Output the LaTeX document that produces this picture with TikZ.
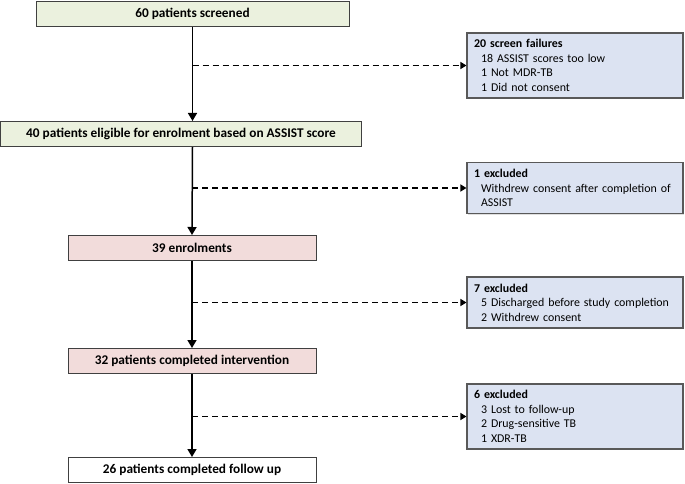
\documentclass[tikz,border=0pt]{standalone}
\usepackage{fontspec}
\setmainfont{Carlito}
\usetikzlibrary{arrows.meta,shadows}
\definecolor{boxgreen}{HTML}{EBF1DE}
\definecolor{boxpink}{HTML}{F2DCDB}
\definecolor{boxblue}{HTML}{DCE3F2}
\definecolor{edgegray}{HTML}{404040}
\definecolor{sidegray}{HTML}{595959}
\begin{document}
\begin{tikzpicture}[x=1pt,y=-1pt,
  mainbox/.style={draw=edgegray, line width=1pt, inner sep=0pt,
    minimum height=25pt, font=\fontsize{13.3}{15}\selectfont\bfseries},
  sidebox/.style={draw=sidegray, fill=boxblue, line width=1.1pt, inner sep=0pt,
    minimum width=216pt, text width=202pt, align=left,
    font=\fontsize{11.9}{14.5}\selectfont,
    drop shadow={shadow xshift=1.2pt, shadow yshift=-1.2pt, opacity=0.25}},
  flow/.style={line width=1.5pt, -{Triangle[length=8pt,width=9pt]}},
  side/.style={line width=1.4pt, dash pattern=on 6pt off 4pt, -{Triangle[length=6pt,width=7pt]}}
]
\useasboundingbox (0,0) rectangle (685,484);

\node[mainbox, fill=boxgreen, minimum width=313pt] (b1) at (192.5,14) {60 patients screened};
\node[mainbox, fill=boxgreen, minimum width=361pt] (b2) at (181,134) {40 patients eligible for enrolment based on ASSIST score};
\node[mainbox, fill=boxpink, minimum width=248pt] (b3) at (192,248) {39 enrolments};
\node[mainbox, fill=boxpink, minimum width=248pt] (b4) at (192,361) {32 patients completed intervention};
\node[mainbox, fill=white, minimum width=248pt] (b5) at (192,470) {26 patients completed follow up};

\node[sidebox, minimum height=65pt] (s1) at (575,65.5) {\textbf{20 screen failures}\\
\hspace*{7pt}18 ASSIST scores too low\\
\hspace*{7pt}1 Not MDR-TB\\
\hspace*{7pt}1 Did not consent};
\node[sidebox, minimum height=51pt] (s2) at (575,188) {\textbf{1 excluded}\\
\hspace*{7pt}Withdrew consent after completion of\\
\hspace*{7pt}ASSIST};
\node[sidebox, minimum height=51pt] (s3) at (575,302.5) {\textbf{7 excluded}\\
\hspace*{7pt}5 Discharged before study completion\\
\hspace*{7pt}2 Withdrew consent};
\node[sidebox, minimum height=65pt] (s4) at (575,416.5) {\textbf{6 excluded}\\
\hspace*{7pt}3 Lost to follow-up\\
\hspace*{7pt}2 Drug-sensitive TB\\
\hspace*{7pt}1 XDR-TB};

\draw[flow] (b1.south) -- (b1.south |- b2.north);
\draw[flow] (b1.south |- b2.south) -- (b3.north);
\draw[flow] (b3.south) -- (b4.north);
\draw[flow] (b4.south) -- (b5.north);

\draw[side] (b1.south |- s1.west) -- (s1.west);
\draw[side] (b3.north |- s2.west) -- (s2.west);
\draw[side] (b3.south |- s3.west) -- (s3.west);
\draw[side] (b4.south |- s4.west) -- (s4.west);
\end{tikzpicture}
\end{document}
